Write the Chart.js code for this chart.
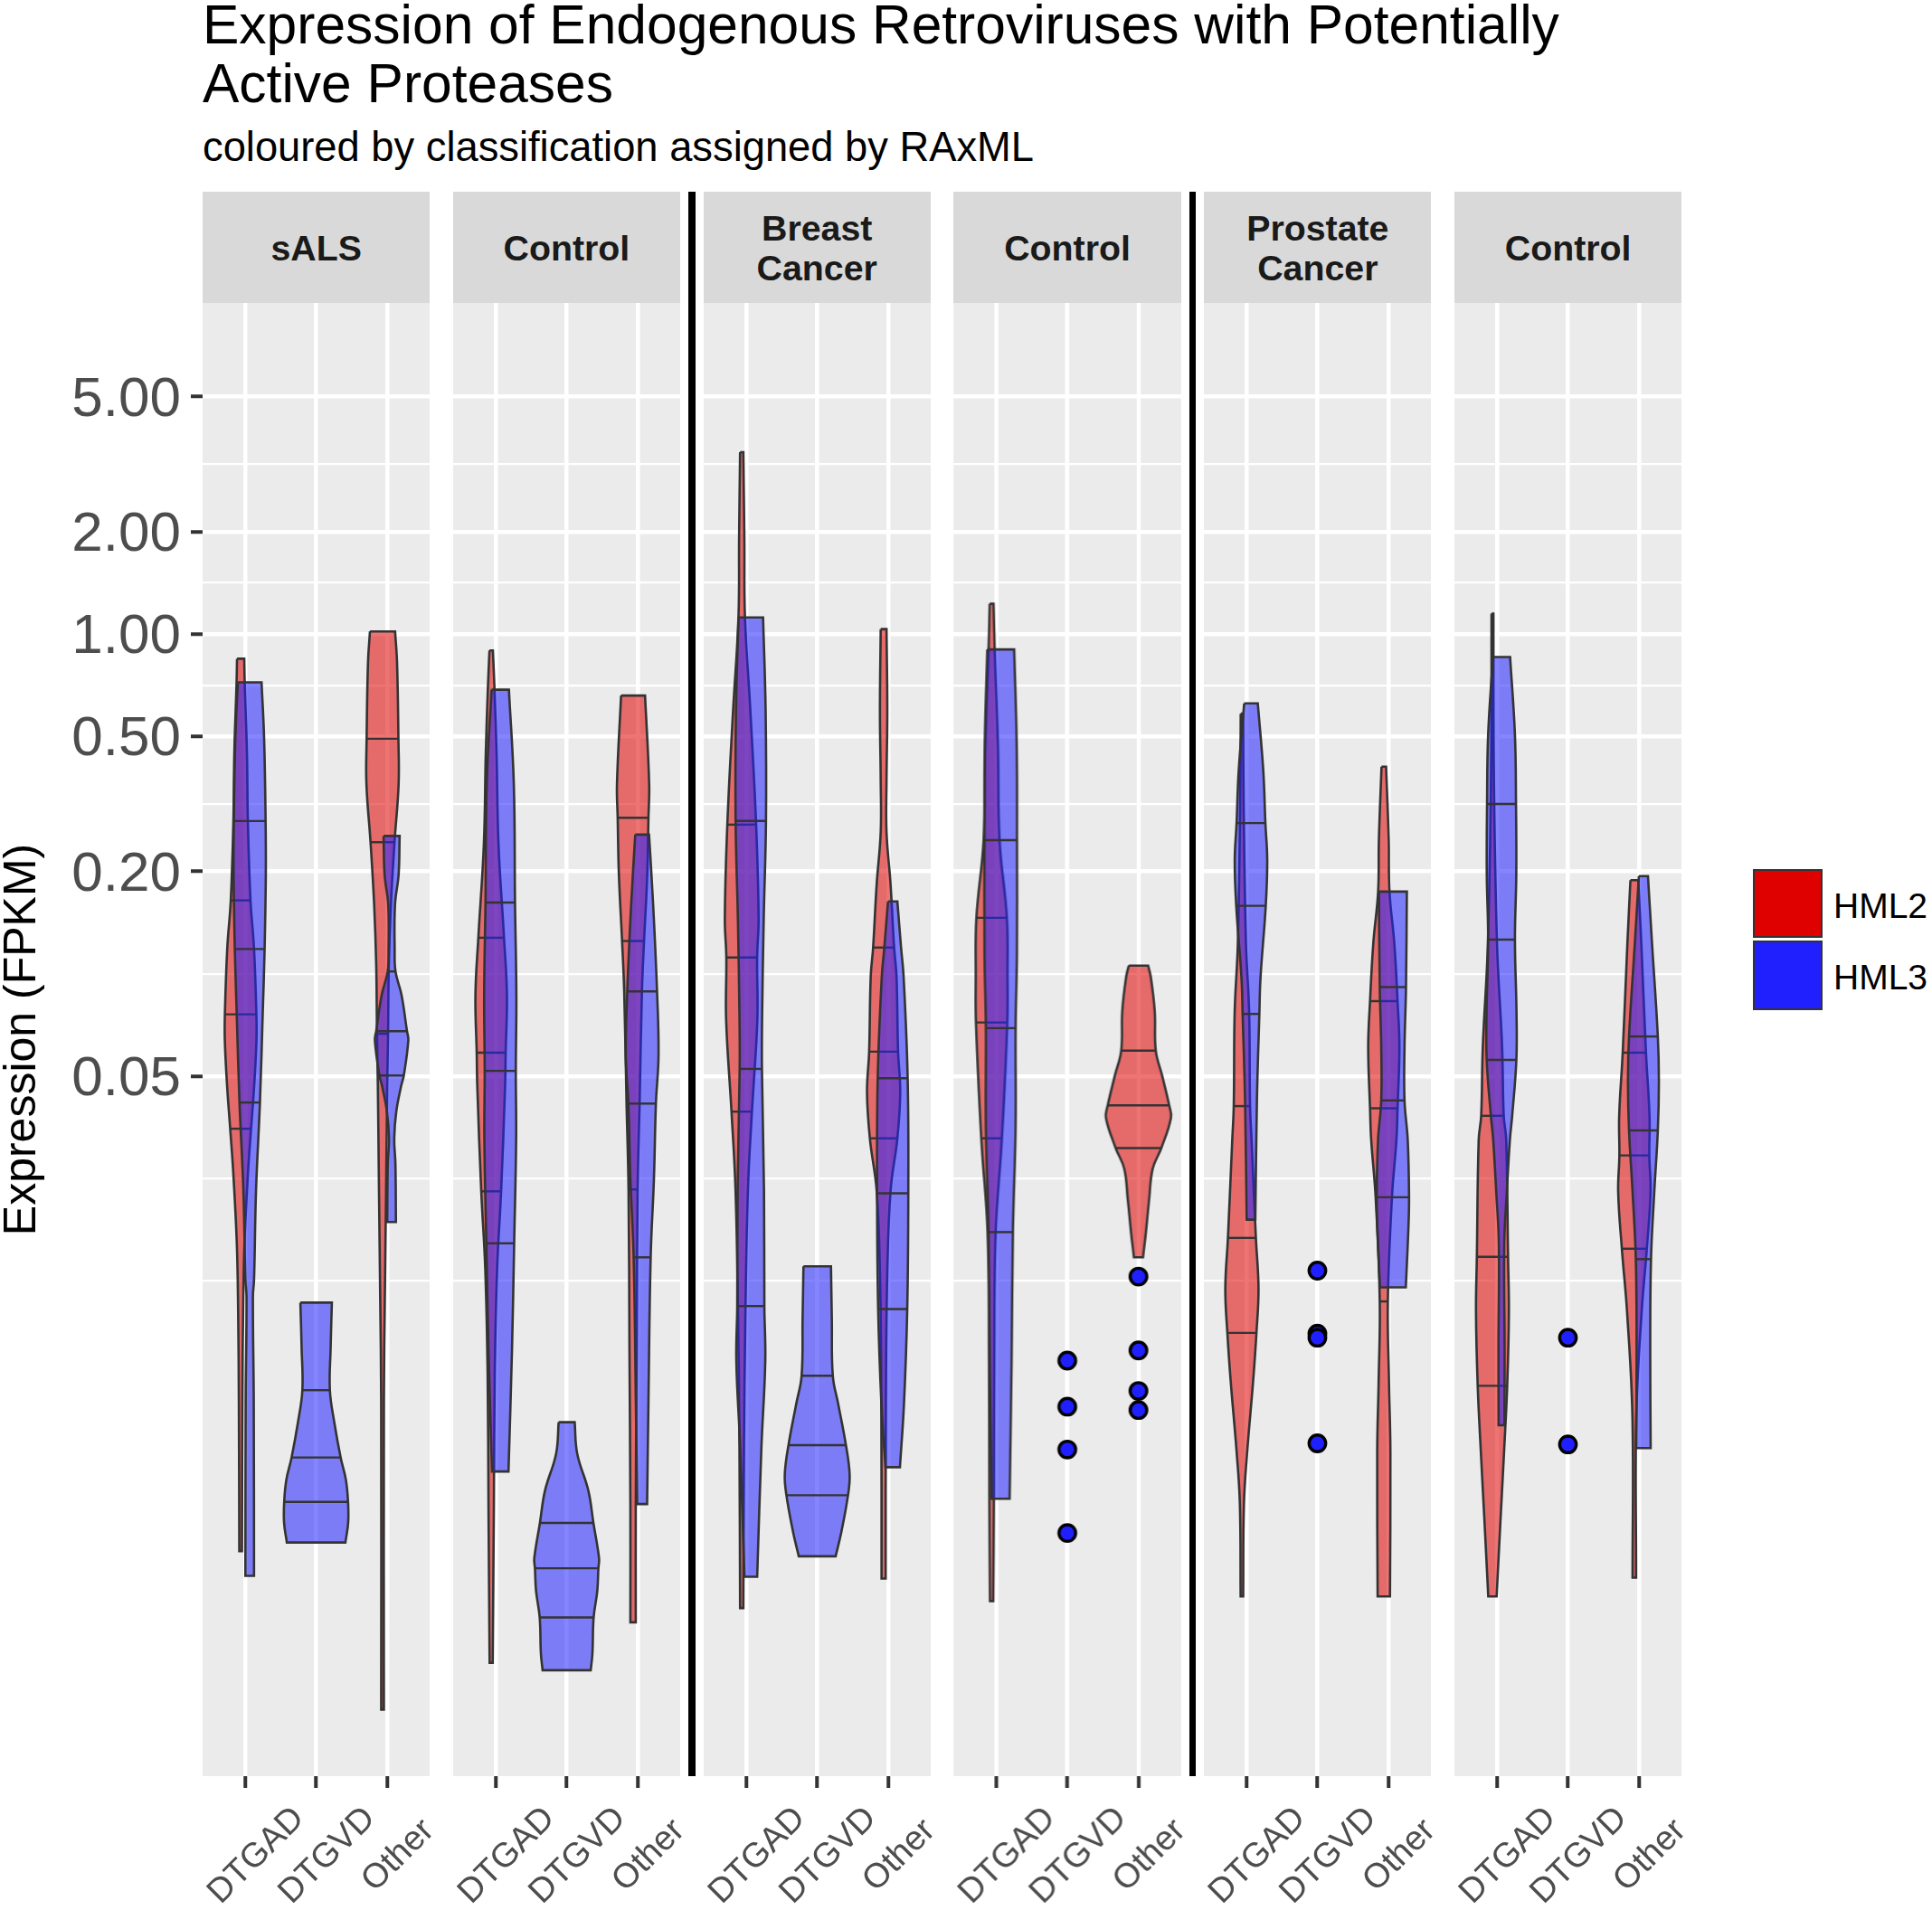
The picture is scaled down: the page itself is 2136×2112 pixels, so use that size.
<!DOCTYPE html>
<html>
<head>
<meta charset="utf-8">
<title>Expression of Endogenous Retroviruses</title>
<script src="https://cdn.jsdelivr.net/npm/chart.js@4"></script>
<style>
  html, body { margin: 0; padding: 0; background: #fff; }
  body { position: relative; width: 2136px; height: 2112px; overflow: hidden; font-family: "Liberation Sans", sans-serif; }
  canvas { position: absolute; top: 0; }
  .title { position: absolute; left: 224px; top: -5px; font-size: 60.5px; line-height: 65px; color: #000; white-space: nowrap; }
  .subtitle { position: absolute; left: 224px; top: 138px; font-size: 45.3px; line-height: 50px; color: #000; white-space: nowrap; }
  .strip { position: absolute; top: 212px; height: 122px; padding-top: 1px; background: #d9d9d9; color: #1a1a1a; font-weight: bold; font-size: 39.3px; line-height: 44px; display: flex; align-items: center; justify-content: center; text-align: center; }
  .divider { position: absolute; top: 212px; height: 1752px; width: 7.5px; background: #000; }
  .key { position: absolute; left: 1938px; width: 77px; box-sizing: border-box; border: 2px solid #333; }
  .keylabel { position: absolute; left: 2027px; font-size: 39px; line-height: 39px; color: #000; }
</style>
</head>
<body>
<div class="title">Expression of Endogenous Retroviruses with Potentially<br>Active Proteases</div>
<div class="subtitle">coloured by classification assigned by RAxML</div>
<div class="key" style="top:961px;height:76px;background:#df0000"></div>
<div class="key" style="top:1040px;height:77px;background:#2020ff"></div>
<div class="keylabel" style="top:982px">HML2</div>
<div class="keylabel" style="top:1061px">HML3</div>
<div class="divider" style="left:761px"></div>
<div class="divider" style="left:1314.5px"></div>

<script>
const categories = ["DTGAD", "DTGVD", "Other"];
const panelTitles = ["sALS", "Control", "Breast<br>Cancer", "Control", "Prostate<br>Cancer", "Control"];
const tickValues = [5, 2, 1, 0.5, 0.2, 0.05];
const minorValues = [3.162, 1.414, 0.707, 0.316, 0.1, 0.025, 0.0125];
const yLimits = [0.000435, 9.43];

// each violin: [FPKM, half width in category units], quartiles in FPKM
// sALS
const sals_dtgad_hml2 = [[.846,.051],[.7226,.057],[.445,.089],[.2816,.102],[.1645,.139],[.1184,.189],[.076,.222],[.0638,.223],[.0469,.191],[.035,.147],[.0256,.102],[.0161,.054],[.0105,.036],[.00552,.025],[.002,.019]];
const sals_dtgad_hml2_q = [.1645,.076,.035];
const sals_dtgad_hml3 = [[.721,.167],[.492,.203],[.2816,.224],[.1962,.227],[.1183,.21],[.0761,.183],[.0418,.144],[.023,.089],[.01256,.061],[.01124,.045],[.00552,.057],[.00169,.061]];
const sals_dtgad_hml3_q = [.2816,.1183,.0418];
const sals_dtgvd_hml3 = [[.01077,.222],[.00788,.204],[.00595,.194],[.0048,.255],[.00377,.346],[.00324,.42],[.00279,.45],[.00243,.452],[.00212,.413]];
const sals_dtgvd_hml3_q = [.00595,.00377,.00279];
const sals_other_hml2 = [[1.018,.177],[.822,.205],[.492,.224],[.362,.227],[.244,.169],[.1599,.118],[.1063,.089],[.0666,.078],[.0469,.066],[.023,.05],[.01124,.033],[.00552,.019],[.000683,.019]];
const sals_other_hml2_q = [.492,.244,.0666];
const sals_other_hml3 = [[.2545,.113],[.1962,.099],[.1599,.048],[.1177,.043],[.1016,.055],[.0866,.14],[.0678,.217],[.0638,.236],[.0502,.172],[.0469,.136],[.0393,.066],[.0328,.037],[.0275,.054],[.0186,.061]];
const sals_other_hml3_q = [.1016,.0678,.0502];

// Control (sALS)
const ctrl1_dtgad_hml2 = [[.895,.024],[.688,.047],[.445,.076],[.2412,.103],[.1277,.181],[.0866,.222],[.0586,.204],[.0469,.196],[.0229,.14],[.01347,.083],[.0066,.05],[.00271,.038],[.000938,.022]];
const ctrl1_dtgad_hml2_q = [.1277,.0586,.0229];
const ctrl1_dtgad_hml3 = [[.686,.122],[.362,.191],[.1621,.208],[.0866,.227],[.0518,.219],[.0328,.224],[.0161,.196],[.00788,.166],[.00343,.116]];
const ctrl1_dtgad_hml3_q = [.1621,.0518,.0161];
const ctrl1_dtgvd_hml3 = [[.00479,.113],[.00387,.149],[.00301,.306],[.00242,.377],[.0019,.457],[.00178,.447],[.00153,.432],[.001275,.38],[.000998,.363],[.000892,.339]];
const ctrl1_dtgvd_hml3_q = [.00242,.00178,.001275];
const ctrl1_other_hml2 = [[.659,.169],[.362,.227],[.288,.217],[.1962,.2],[.1249,.155],[.0888,.125],[.0415,.092],[.0232,.064],[.00788,.051],[.00271,.038],[.001234,.038]];
const ctrl1_other_hml2_q = [.288,.1249,.0232];
const ctrl1_other_hml3 = [[.2568,.097],[.1599,.155],[.0888,.21],[.0576,.231],[.0415,.194],[.0249,.166],[.01464,.12],[.00552,.089],[.00275,.07]];
const ctrl1_other_hml3_q = [.0888,.0415,.01464];

// Breast Cancer
const breast_dtgad_hml2 = [[3.43,.023],[1.915,.037],[1.119,.046],[.594,.122],[.2748,.203],[.1452,.238],[.1117,.217],[.0734,.22],[.0393,.144],[.023,.087],[.00967,.051],[.00406,.032],[.001359,.023]];
const breast_dtgad_hml2_q = [.2748,.1117,.0393];
const breast_dtgad_hml3 = [[1.119,.173],[.594,.209],[.2819,.214],[.1452,.182],[.0734,.159],[.0525,.157],[.023,.186],[.01052,.191],[.00725,.204],[.00406,.15],[.00168,.09]];
const breast_dtgad_hml3_q = [.2819,.0525,.01052];
const breast_dtgvd_hml3 = [[.01377,.194],[.00967,.206],[.00656,.22],[.00542,.296],[.0041,.405],[.00336,.457],[.00292,.434],[.00228,.341],[.00193,.26]];
const breast_dtgvd_hml3_q = [.00656,.0041,.00292];
const breast_other_hml2 = [[1.034,.041],[.594,.052],[.371,.041],[.2612,.041],[.1834,.098],[.1195,.148],[.0979,.182],[.059,.204],[.0449,.234],[.0328,.194],[.023,.098],[.01295,.051],[.00542,.032],[.00166,.029]];
const breast_other_hml2_q = [.1195,.059,.0328];
const breast_other_hml3 = [[.1633,.066],[.1195,.118],[.0979,.154],[.0493,.211],[.0226,.22],[.01031,.205],[.00542,.159],[.00353,.102]];
const breast_other_hml3_q = [.0493,.0226,.01031];

// Control (breast)
const ctrl2_dtgad_hml2 = [[1.228,.027],[.901,.043],[.469,.089],[.2473,.112],[.1462,.214],[.0979,.223],[.0719,.22],[.0328,.145],[.01728,.057],[.00725,.037],[.00285,.032],[.001425,.023]];
const ctrl2_dtgad_hml2_q = [.1462,.0719,.0328];
const ctrl2_dtgad_hml3 = [[.901,.189],[.469,.225],[.2473,.229],[.1149,.228],[.0692,.209],[.0356,.209],[.01737,.171],[.00725,.153],[.00285,.125]];
const ctrl2_dtgad_hml3_q = [.2473,.0692,.01737];
const ctrl2_other_hml2 = [[.1057,.136],[.0979,.173],[.0777,.228],[.0594,.243],[.0503,.331],[.041,.432],[.0377,.457],[.0307,.321],[.0267,.2],[.0217,.15],[.01728,.104],[.01464,.064]];
const ctrl2_other_hml2_q = [.0594,.041,.0307];
const ctrl2_dtgvd_points = [.00727,.00532,.00398,.00226];
const ctrl2_other_points = [.01285,.00779,.00592,.0052];

// Prostate Cancer
const prostate_dtgad_hml2 = [[.583,.017],[.3146,.025],[.1231,.057],[.0771,.102],[.0408,.115],[.0325,.136],[.0167,.197],[.01184,.234],[.00877,.205],[.00628,.157],[.00393,.075],[.00276,.029],[.00147,.018]];
const prostate_dtgad_hml2_q = [.0408,.0167,.00877];
const prostate_dtgad_hml3 = [[.625,.096],[.397,.173],[.2777,.203],[.2161,.229],[.1585,.208],[.0972,.134],[.0762,.118],[.0428,.084],[.0189,.061]];
const prostate_dtgad_hml3_q = [.2777,.1585,.0762];
const prostate_other_hml2 = [[.407,.032],[.2488,.069],[.1746,.08],[.1231,.148],[.0831,.194],[.0609,.22],[.0402,.194],[.0325,.178],[.022,.115],[.01086,.057],[.00628,.073],[.00393,.093],[.00147,.087]];
const prostate_other_hml2_q = [.0831,.0402,.01086];
const prostate_other_hml3 = [[.1746,.197],[.0914,.185],[.0609,.164],[.0424,.164],[.0325,.209],[.022,.228],[.01765,.218],[.01194,.182]];
const prostate_other_hml3_q = [.0914,.0424,.022];
const prostate_dtgvd_points = [.01338,.00873,.00849,.00415];

// Control (prostate)
const ctrl3_dtgad_hml2 = [[1.148,.013],[.399,.019],[.1231,.064],[.0609,.136],[.0382,.159],[.0325,.194],[.01469,.22],[.01007,.232],[.00613,.208],[.00393,.164],[.00246,.113],[.00147,.059]];
const ctrl3_dtgad_hml2_q = [.0382,.01469,.00613];
const ctrl3_dtgad_hml3 = [[.856,.121],[.504,.189],[.3162,.204],[.1969,.208],[.1261,.189],[.0771,.211],[.0558,.209],[.0382,.15],[.0325,.118],[.0229,.075],[.01604,.038],[.00795,.043],[.00469,.041]];
const ctrl3_dtgad_hml3_q = [.3162,.1261,.0558];
const ctrl3_other_hml2 = [[.1886,.055],[.1231,.098],[.0586,.164],[.0381,.214],[.0292,.211],[.0228,.228],[.01552,.176],[.01007,.102],[.00497,.027],[.00167,.025]];
const ctrl3_other_hml2_q = [.0586,.0292,.01552];
const ctrl3_other_hml3 = [[.194,.064],[.1231,.121],[.0654,.203],[.0481,.218],[.0346,.203],[.0228,.153],[.01446,.107],[.00795,.096],[.00402,.102]];
const ctrl3_other_hml3_q = [.0654,.0346,.01446];
const ctrl3_dtgvd_points = [.00849,.00412];

const DODGE = 0.064;
const colors = { HML2: "rgba(224,0,0,0.55)", HML3: "rgba(32,32,255,0.55)" };
const FONT = '"Liberation Sans", sans-serif';

// half width of a violin at a given FPKM, along its drawn outline
function widthAt(shape, q) {
  for (let i = 1; i < shape.length; i++) {
    if (q >= shape[i][0]) {
      const t = (Math.log(shape[i - 1][0]) - Math.log(q)) / (Math.log(shape[i - 1][0]) - Math.log(shape[i][0]));
      return shape[i - 1][1] + t * (shape[i][1] - shape[i - 1][1]);
    }
  }
  return shape[shape.length - 1][1];
}

function violin(cat, series, shape, quartiles, dodged = true) {
  const c = dodged ? cat + (series === "HML2" ? -DODGE : DODGE) : cat;
  const left = shape.map(([v, w]) => ({ x: c - w, y: v }));
  const right = shape.map(([v, w]) => ({ x: c + w, y: v })).reverse();
  const last = left.length - 1;
  const sets = [{
    // end points are doubled so the spline keeps the flat ends square
    data: [left[0], ...left, left[last], right[0], ...right, right[last], left[0], left[0]],
    showLine: true,
    fill: "shape",
    tension: 0.4,
    backgroundColor: colors[series],
    borderColor: "#333333",
    borderWidth: 2.6,
    pointRadius: 0
  }];
  quartiles.forEach(q => {
    const w = widthAt(shape, q);
    sets.push({
      data: [{ x: c - w, y: q }, { x: c + w, y: q }],
      showLine: true,
      fill: false,
      borderColor: "#333333",
      borderWidth: 2.4,
      pointRadius: 0
    });
  });
  return sets;
}

function dots(cat, values) {
  return [{
    data: values.map(v => ({ x: cat, y: v })),
    showLine: false,
    pointRadius: 9.2,
    pointBorderWidth: 3.4,
    pointBackgroundColor: "#2020ff",
    pointBorderColor: "#000000"
  }];
}

const panelSets = [
  [...violin(1, "HML2", sals_dtgad_hml2, sals_dtgad_hml2_q), ...violin(1, "HML3", sals_dtgad_hml3, sals_dtgad_hml3_q),
   ...violin(2, "HML3", sals_dtgvd_hml3, sals_dtgvd_hml3_q, false),
   ...violin(3, "HML2", sals_other_hml2, sals_other_hml2_q), ...violin(3, "HML3", sals_other_hml3, sals_other_hml3_q)],
  [...violin(1, "HML2", ctrl1_dtgad_hml2, ctrl1_dtgad_hml2_q), ...violin(1, "HML3", ctrl1_dtgad_hml3, ctrl1_dtgad_hml3_q),
   ...violin(2, "HML3", ctrl1_dtgvd_hml3, ctrl1_dtgvd_hml3_q, false),
   ...violin(3, "HML2", ctrl1_other_hml2, ctrl1_other_hml2_q), ...violin(3, "HML3", ctrl1_other_hml3, ctrl1_other_hml3_q)],
  [...violin(1, "HML2", breast_dtgad_hml2, breast_dtgad_hml2_q), ...violin(1, "HML3", breast_dtgad_hml3, breast_dtgad_hml3_q),
   ...violin(2, "HML3", breast_dtgvd_hml3, breast_dtgvd_hml3_q, false),
   ...violin(3, "HML2", breast_other_hml2, breast_other_hml2_q), ...violin(3, "HML3", breast_other_hml3, breast_other_hml3_q)],
  [...violin(1, "HML2", ctrl2_dtgad_hml2, ctrl2_dtgad_hml2_q), ...violin(1, "HML3", ctrl2_dtgad_hml3, ctrl2_dtgad_hml3_q),
   ...dots(2, ctrl2_dtgvd_points),
   ...violin(3, "HML2", ctrl2_other_hml2, ctrl2_other_hml2_q, false), ...dots(3, ctrl2_other_points)],
  [...violin(1, "HML2", prostate_dtgad_hml2, prostate_dtgad_hml2_q), ...violin(1, "HML3", prostate_dtgad_hml3, prostate_dtgad_hml3_q),
   ...dots(2, prostate_dtgvd_points),
   ...violin(3, "HML2", prostate_other_hml2, prostate_other_hml2_q), ...violin(3, "HML3", prostate_other_hml3, prostate_other_hml3_q)],
  [...violin(1, "HML2", ctrl3_dtgad_hml2, ctrl3_dtgad_hml2_q), ...violin(1, "HML3", ctrl3_dtgad_hml3, ctrl3_dtgad_hml3_q),
   ...dots(2, ctrl3_dtgvd_points),
   ...violin(3, "HML2", ctrl3_other_hml2, ctrl3_other_hml2_q), ...violin(3, "HML3", ctrl3_other_hml3, ctrl3_other_hml3_q)]
];

// panel background and the 45 degree category labels
const panelPlugin = {
  id: "panel",
  beforeDraw(chart) {
    const { ctx, chartArea: a } = chart;
    ctx.save();
    ctx.fillStyle = "#ebebeb";
    ctx.fillRect(a.left, a.top, a.width, a.height);
    ctx.restore();
  },
  afterDraw(chart) {
    const { ctx, scales } = chart;
    ctx.save();
    ctx.fillStyle = "#4d4d4d";
    ctx.font = "38px " + FONT;
    ctx.textAlign = "center";
    ctx.textBaseline = "middle";
    categories.forEach((name, i) => {
      ctx.save();
      ctx.translate(scales.x.getPixelForValue(i + 1) + 12.5, 2052);
      ctx.rotate(-Math.PI / 4);
      ctx.fillText(name, 0, 0);
      ctx.restore();
    });
    ctx.restore();
  }
};

const isMajor = v => tickValues.includes(v);
const PANEL_W = 251.3, PANEL_TOP = 335, PANEL_BOTTOM = 1964, MARGIN = 60;

panelSets.forEach((sets, i) => {
  const panelLeft = 224 + i * 276.8;
  const first = i === 0;
  const canvasLeft = first ? 0 : panelLeft - MARGIN;
  const canvasWidth = (first ? panelLeft : MARGIN) + PANEL_W + MARGIN;

  const strip = document.createElement("div");
  strip.className = "strip";
  strip.style.left = panelLeft + "px";
  strip.style.width = PANEL_W + "px";
  strip.innerHTML = panelTitles[i];
  document.body.appendChild(strip);

  const canvas = document.createElement("canvas");
  canvas.width = canvasWidth;
  canvas.height = 2112;
  canvas.style.left = canvasLeft + "px";
  canvas.style.width = canvasWidth + "px";
  canvas.style.height = "2112px";
  document.body.appendChild(canvas);

  new Chart(canvas.getContext("2d"), {
    type: "scatter",
    // first dataset is painted on top in Chart.js, HML3 has to cover HML2
    data: { datasets: sets.slice().reverse() },
    plugins: [panelPlugin],
    options: {
      responsive: false,
      devicePixelRatio: 1,
      animation: false,
      events: [],
      layout: { padding: { top: PANEL_TOP, bottom: 2112 - PANEL_BOTTOM - 13, left: first ? 0 : MARGIN, right: MARGIN } },
      plugins: { legend: { display: false }, tooltip: { enabled: false } },
      scales: {
        x: {
          type: "linear",
          min: 0.4,
          max: 3.6,
          afterBuildTicks: s => { s.ticks = categories.map((c, k) => ({ value: k + 1 })); },
          afterFit: s => { s.height = 13; },
          ticks: { display: false, autoSkip: false },
          border: { display: false },
          grid: { color: "#ffffff", lineWidth: 4.5, tickColor: "#333333", tickWidth: 4, tickLength: 13 }
        },
        y: {
          type: "logarithmic",
          min: yLimits[0],
          max: yLimits[1],
          afterBuildTicks: s => { s.ticks = [...tickValues, ...minorValues].map(v => ({ value: v })); },
          afterFit: s => { s.width = first ? panelLeft : 0; },
          title: {
            display: first,
            text: "Expression (FPKM)",
            color: "#000000",
            font: { size: 50, family: FONT, lineHeight: 1 },
            padding: 0
          },
          ticks: {
            display: first,
            autoSkip: false,
            padding: 11,
            labelOffset: 4,
            color: "#4d4d4d",
            font: { size: 62, family: FONT },
            callback: v => isMajor(v) ? v.toFixed(2) : ""
          },
          border: { display: false },
          grid: {
            color: "#ffffff",
            drawTicks: first,
            lineWidth: c => isMajor(c.tick.value) ? 4.5 : 2.3,
            tickColor: c => isMajor(c.tick.value) ? "#333333" : "rgba(0,0,0,0)",
            tickWidth: 4,
            tickLength: 13
          }
        }
      }
    }
  });
});
</script>
</body>
</html>
